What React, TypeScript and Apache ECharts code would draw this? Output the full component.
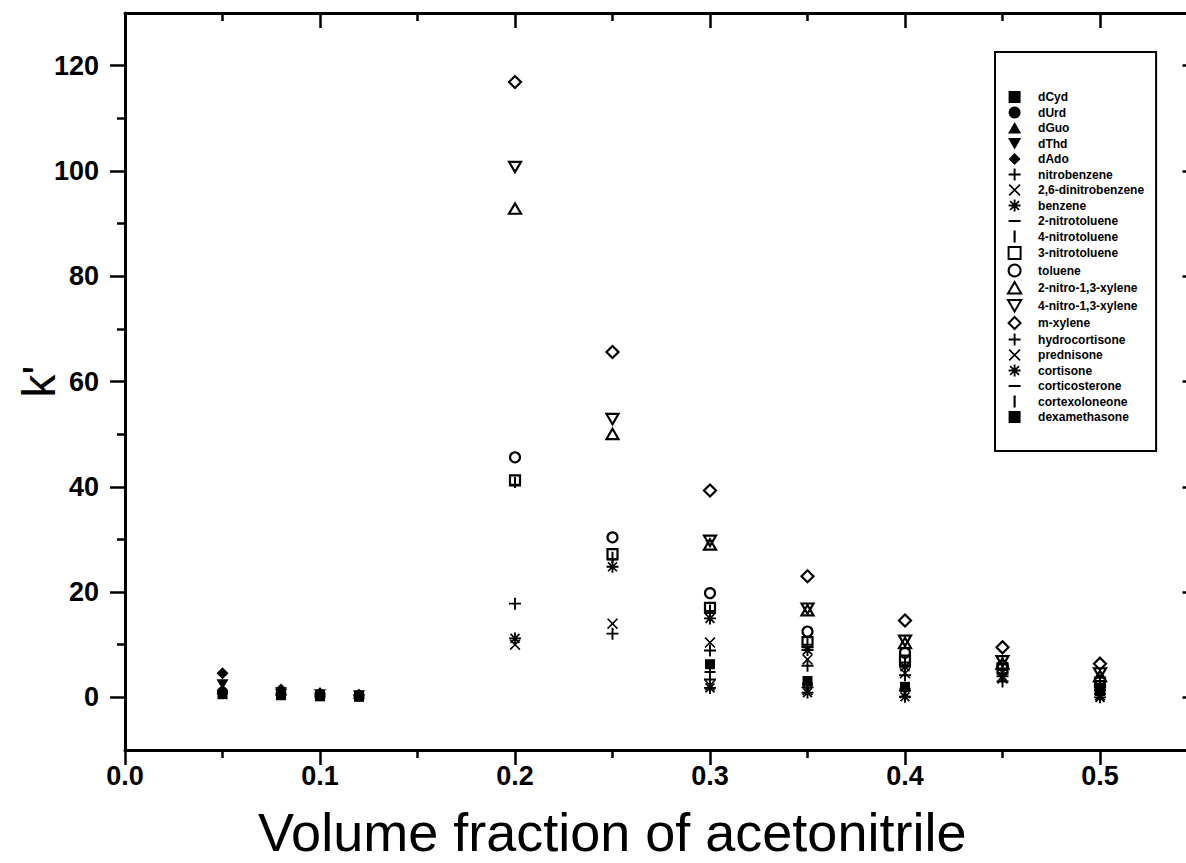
import React, { useEffect, useRef } from "react";
import * as echarts from "echarts";

// ---------- data ----------
const nucleosideX = [0.05, 0.08, 0.1, 0.12];
const aromaticX = [0.2, 0.25, 0.3, 0.35, 0.4, 0.45, 0.5];
const steroidX = [0.3, 0.35, 0.4, 0.5];

const dCyd = [0.6, 0.4, 0.2, 0.1];
const dUrd = [1.0, 0.7, 0.4, 0.3];
const dGuo = [1.5, 1.3, 0.9, 0.6];
const dThd = [2.5, 1.0, 0.6, 0.4];
const dAdo = [4.6, 1.5, 0.8, 0.5];

const nitrobenzene = [17.8, 12.1, 8.9, 6.0, 4.2, 3.0, 1.4];
const dinitrobenzene26 = [10.0, 14.0, 10.4, 7.2, 4.6, 3.6, 1.7];
const benzene = [11.2, 24.8, 15.0, 9.0, 5.8, 4.0, 2.0];
const nitrotoluene2 = [40.4, 26.2, 16.4, 10.0, 6.6, 5.2, 2.6];
const nitrotoluene4 = [40.8, 26.6, 16.6, 10.2, 6.8, 5.2, 2.6];
const nitrotoluene3 = [41.2, 27.2, 17.0, 10.5, 7.0, 5.5, 2.8];
const toluene = [45.6, 30.4, 19.8, 12.5, 8.5, 6.0, 3.2];
const nitroXylene2 = [92.8, 50.0, 29.0, 16.5, 10.3, 6.4, 4.0];
const nitroXylene4 = [100.8, 52.9, 29.8, 16.9, 10.8, 6.9, 4.6];
const mXylene = [116.9, 65.6, 39.3, 23.0, 14.6, 9.5, 6.4];

const hydrocortisone = [3.4, 1.9, 1.3, 0.6];
const prednisone = [2.3, 1.4, 0.8, 0.4];
const cortisone = [1.8, 0.9, 0.1, 0.0];
const corticosterone = [4.8, 2.6, 1.7, 1.0];
const cortexoloneone = [4.9, 2.4, 1.5, 0.8];
const dexamethasone = [6.3, 3.1, 2.0, 1.2];

const xMajor = [0, 0.1, 0.2, 0.3, 0.4, 0.5];
const xMinor = [0.05, 0.15, 0.25, 0.35, 0.45];
const yMajor = [0, 20, 40, 60, 80, 100, 120];
const yMinor = [10, 30, 50, 70, 90, 110];

// ---------- symbols (each path spans a 10x10 box so sizes stay consistent) ----------
const BOX = "M-5,-5L-5,-5Z M5,5L5,5Z ";
const SQ = "path://M-5,-5L5,-5L5,5L-5,5Z";
const TRI = "path://" + BOX + "M0,-5L5.5,4.5L-5.5,4.5Z";
const TRID = "path://" + BOX + "M-5.5,-4.5L5.5,-4.5L0,5Z";
const DIA = "path://M0,-5L5,0L0,5L-5,0Z";
const PLUS = "path://M-5,-0.8L5,-0.8L5,0.8L-5,0.8Z M-0.8,-5L0.8,-5L0.8,5L-0.8,5Z";
const CROSS = "path://M-5,-4L-4,-5L5,4L4,5Z M4,-5L5,-4L-4,5L-5,4Z";
const STAR =
  "path://M-5,-0.8L5,-0.8L5,0.8L-5,0.8Z M-0.8,-5L0.8,-5L0.8,5L-0.8,5Z M-4.2,-3.2L-3.2,-4.2L4.2,3.2L3.2,4.2Z M3.2,-4.2L4.2,-3.2L-3.2,4.2L-4.2,3.2Z";
const MINUS = "path://" + BOX + "M-5,-0.9L5,-0.9L5,0.9L-5,0.9Z";
const VBAR = "path://" + BOX + "M-0.9,-5L0.9,-5L0.9,5L-0.9,5Z";

const FILLED = { color: "#000", opacity: 1 };
const HOLLOW = { color: "rgba(0,0,0,0)", borderColor: "#000", borderWidth: 2.2, opacity: 1 };

type Def = [string, number[], number[], string, number, any];
const defs: Def[] = [
  ["dCyd", nucleosideX, dCyd, SQ, 10, FILLED],
  ["dUrd", nucleosideX, dUrd, "circle", 11, FILLED],
  ["dGuo", nucleosideX, dGuo, TRI, 12, FILLED],
  ["dThd", nucleosideX, dThd, TRID, 12, FILLED],
  ["dAdo", nucleosideX, dAdo, DIA, 12, FILLED],
  ["nitrobenzene", aromaticX, nitrobenzene, PLUS, 12, FILLED],
  ["2,6-dinitrobenzene", aromaticX, dinitrobenzene26, CROSS, 11, FILLED],
  ["benzene", aromaticX, benzene, STAR, 12, FILLED],
  ["2-nitrotoluene", aromaticX, nitrotoluene2, MINUS, 11, FILLED],
  ["4-nitrotoluene", aromaticX, nitrotoluene4, VBAR, 11, FILLED],
  ["3-nitrotoluene", aromaticX, nitrotoluene3, SQ, 10, HOLLOW],
  ["toluene", aromaticX, toluene, "circle", 10, HOLLOW],
  ["2-nitro-1,3-xylene", aromaticX, nitroXylene2, TRI, 12, HOLLOW],
  ["4-nitro-1,3-xylene", aromaticX, nitroXylene4, TRID, 12, HOLLOW],
  ["m-xylene", aromaticX, mXylene, DIA, 12, HOLLOW],
  ["hydrocortisone", steroidX, hydrocortisone, PLUS, 12, FILLED],
  ["prednisone", steroidX, prednisone, CROSS, 11, FILLED],
  ["cortisone", steroidX, cortisone, STAR, 12, FILLED],
  ["corticosterone", steroidX, corticosterone, MINUS, 11, FILLED],
  ["cortexoloneone", steroidX, cortexoloneone, VBAR, 11, FILLED],
  ["dexamethasone", steroidX, dexamethasone, SQ, 10, FILLED],
];

const FONT = "'Liberation Sans', Arial, Helvetica, sans-serif";
const BLACK = "#000";
const CHART_W = 1210;
const axisLineStyle = { show: true, onZero: false, lineStyle: { color: BLACK, width: 3 } };
const noLine = { show: false, onZero: false };

function tick(values: number[], length: number, inside: boolean) {
  return { show: true, customValues: values, length, inside, lineStyle: { color: BLACK, width: 2.5 } };
}

export default function App() {
  const ref = useRef<HTMLDivElement>(null);
  useEffect(() => {
    const chart = echarts.init(ref.current!, null, { renderer: "svg" });
    const xBase = { type: "value", min: 0, max: 0.55, splitLine: { show: false } };
    const yBase = { type: "value", min: -10, max: 130, splitLine: { show: false } };
    const option: any = {
      animation: false,
      backgroundColor: "#fff",
      grid: {
        left: 125,
        top: 13,
        right: CHART_W - 1197.5,
        bottom: 113,
        containLabel: false,
        outerBoundsMode: "none",
      },
      legend: {
        orient: "vertical",
        left: 995,
        top: 52,
        padding: [39, 12, 28, 12],
        itemWidth: 37,
        itemHeight: 12,
        itemGap: 3.5,
        borderColor: BLACK,
        borderWidth: 2,
        selectedMode: false,
        textStyle: { color: BLACK, fontSize: 12, fontWeight: "bold", fontFamily: FONT },
        data: defs.map((d) => d[0]),
      },
      xAxis: [
        {
          ...xBase,
          position: "bottom",
          axisLine: axisLineStyle,
          axisTick: tick(xMajor, 15, false),
          axisLabel: {
            customValues: xMajor,
            formatter: (v: number) => v.toFixed(1),
            fontSize: 27,
            fontWeight: "bold",
            fontFamily: FONT,
            color: BLACK,
            margin: 12,
          },
          name: "Volume fraction of acetonitrile",
          nameLocation: "middle",
          nameMoveOverlap: false,
          nameGap: 59,
          nameTextStyle: {
            fontSize: 54,
            lineHeight: 46,
            fontFamily: FONT,
            color: BLACK,
            padding: [0, 98, 0, 0],
          },
        },
        { ...xBase, position: "bottom", axisLine: noLine, axisTick: tick(xMinor, 8, false), axisLabel: { show: false } },
        { ...xBase, position: "top", axisLine: axisLineStyle, axisTick: tick(xMajor, 15, true), axisLabel: { show: false } },
        { ...xBase, position: "top", axisLine: noLine, axisTick: tick(xMinor, 8, true), axisLabel: { show: false } },
      ],
      yAxis: [
        {
          ...yBase,
          position: "left",
          axisLine: axisLineStyle,
          axisTick: tick(yMajor, 15, false),
          axisLabel: {
            customValues: yMajor,
            formatter: (v: number) => String(v),
            fontSize: 27,
            fontWeight: "bold",
            fontFamily: FONT,
            color: BLACK,
            margin: 26,
          },
          name: "k'",
          nameLocation: "middle",
          nameMoveOverlap: false,
          nameGap: 63,
          nameTextStyle: { fontSize: 46, fontFamily: FONT, color: BLACK },
        },
        { ...yBase, position: "left", axisLine: noLine, axisTick: tick(yMinor, 8, false), axisLabel: { show: false } },
        { ...yBase, position: "right", axisLine: axisLineStyle, axisTick: tick(yMajor, 15, true), axisLabel: { show: false } },
        { ...yBase, position: "right", axisLine: noLine, axisTick: tick(yMinor, 8, true), axisLabel: { show: false } },
      ],
      series: defs.map(([name, xs, ys, symbol, size, style]) => ({
        name,
        type: "scatter",
        xAxisIndex: 0,
        yAxisIndex: 0,
        symbol,
        symbolSize: size,
        symbolKeepAspect: true,
        itemStyle: style,
        emphasis: { disabled: true },
        data: xs.map((x, i) => [x, ys[i]]),
      })),
    };
    chart.setOption(option);
    return () => chart.dispose();
  }, []);
  return (
    <div style={{ position: "absolute", left: 0, top: 0, width: 1186, height: 863, overflow: "hidden", background: "#fff" }}>
      <div ref={ref} style={{ width: CHART_W, height: 863 }} />
    </div>
  );
}
